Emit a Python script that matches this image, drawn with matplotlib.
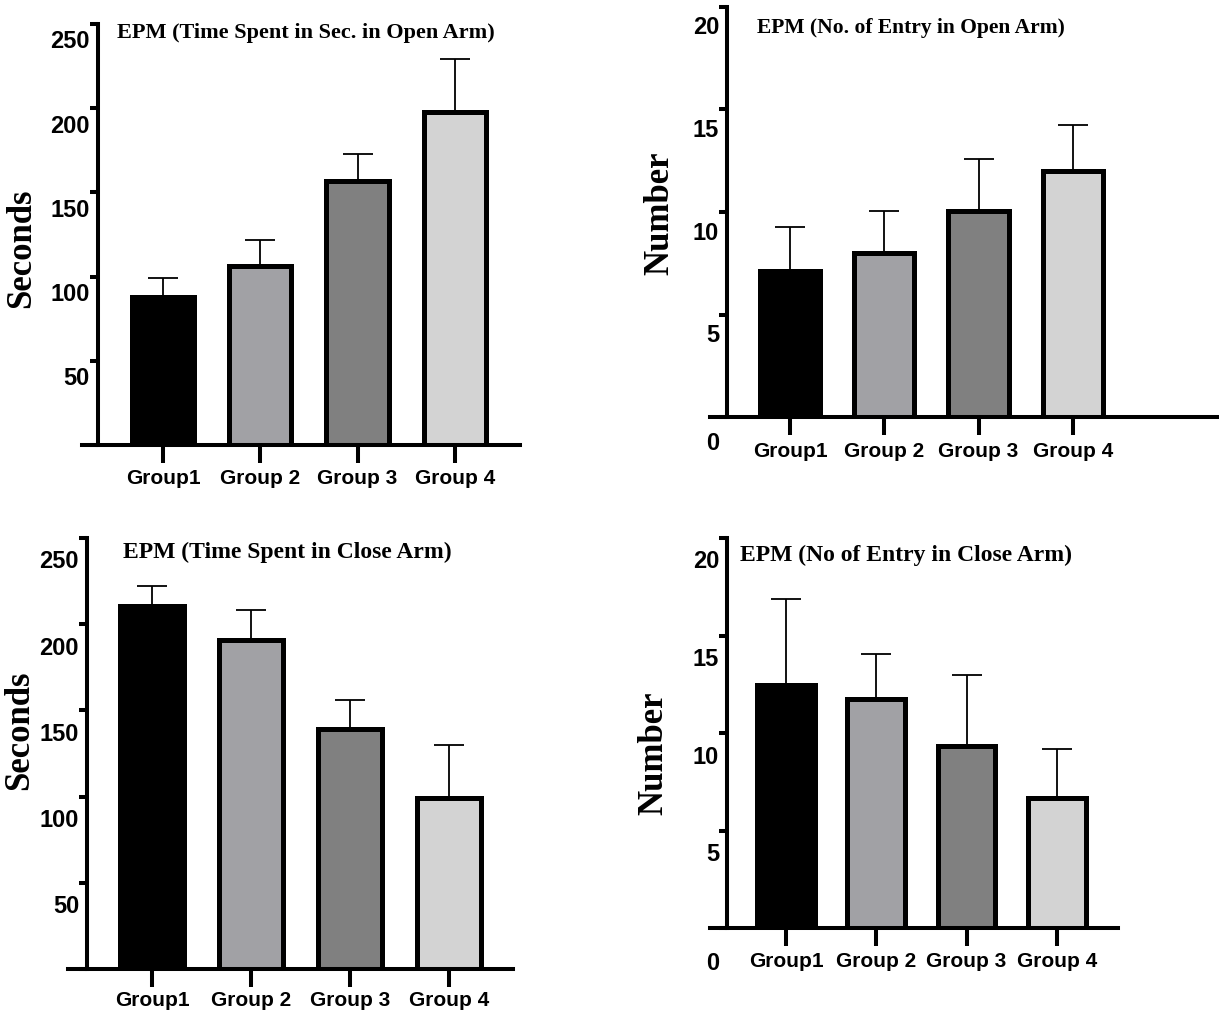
import matplotlib
matplotlib.use("Agg")
import matplotlib.pyplot as plt
from matplotlib.transforms import ScaledTranslation
import numpy as np

# data
groups = ["Group1", "Group 2", "Group 3", "Group 4"]
bar_colors = ["#000000", "#a1a1a5", "#808080", "#d3d3d3"]

open_time_mean = [88, 106, 157, 198]
open_time_sd = [11, 16, 16, 31]

open_entry_mean = [7.1, 8.0, 10.05, 12.0]
open_entry_sd = [2.15, 2.05, 2.55, 2.25]

close_time_mean = [210.5, 191, 139.5, 99]
close_time_sd = [11.5, 17, 16.5, 31]

close_entry_mean = [12.45, 11.75, 9.35, 6.65]
close_entry_sd = [4.4, 2.3, 3.65, 2.55]

sec_ticks = [0, 50, 100, 150, 200, 250]
num_ticks = [0, 5, 10, 15, 20]

W, H = 1219, 1014
plt.rcParams['font.family'] = ['Liberation Sans', 'DejaVu Sans']
plt.rcParams['font.weight'] = 'bold'

fig = plt.figure(figsize=(W / 100, H / 100), dpi=100)


def px(x, y):
    return x / W, 1 - y / H


# layout of each panel, in pixels of the reference
panels = [
    dict(box=(82, 24, 520, 445), spine=98, mean=open_time_mean, sd=open_time_sd, ticks=sec_ticks,
         first=163, step=97.3, title="EPM (Time Spent in Sec. in Open Arm)", tpos=(306, 33), tsize=16,
         ylabel="Seconds", lpos=(22, 248), off=18, zero=False, zoff=0, xpad=4),
    dict(box=(710, 7, 1219, 417), spine=727, mean=open_entry_mean, sd=open_entry_sd, ticks=num_ticks,
         first=790, step=94.3, title="EPM (No. of Entry in Open Arm)", tpos=(911, 28), tsize=15.5,
         ylabel="Number", lpos=(660, 213), off=21, zero=True, zoff=5, xpad=5),
    dict(box=(68, 538, 513, 969), spine=87, mean=close_time_mean, sd=close_time_sd, ticks=sec_ticks,
         first=152, step=99, title="EPM (Time Spent in Close Arm)", tpos=(287, 552), tsize=17,
         ylabel="Seconds", lpos=(20, 730), off=24, zero=False, zoff=0, xpad=3),
    dict(box=(710, 538, 1118, 928), spine=727, mean=close_entry_mean, sd=close_entry_sd, ticks=num_ticks,
         first=786, step=90.3, title="EPM (No of Entry in Close Arm)", tpos=(906, 555), tsize=17,
         ylabel="Number", lpos=(654, 753), off=24, zero=True, zoff=11, xpad=4),
]

for p in panels:
    l, t, r, b = p["box"]
    ax = fig.add_axes([l / W, 1 - b / H, (r - l) / W, (b - t) / H])
    wpx = r - l
    x = np.arange(len(groups))
    lo = -(p["first"] - l) / p["step"]
    ax.set_xlim(lo, lo + wpx / p["step"])
    ax.set_ylim(0, p["ticks"][-1])

    ax.bar(x, p["mean"], width=0.64, color=bar_colors, edgecolor="black", linewidth=3.6,
           yerr=[np.zeros(len(groups)), p["sd"]], capsize=11,
           error_kw=dict(elinewidth=1.3, capthick=1.3, ecolor="black"), zorder=2)

    for s in ["top", "right"]:
        ax.spines[s].set_visible(False)
    ax.spines["left"].set_position(("axes", (p["spine"] - l) / wpx))
    for s in ["left", "bottom"]:
        ax.spines[s].set_linewidth(2.9)
        ax.spines[s].set_zorder(3)

    ax.set_yticks(p["ticks"])
    ax.set_yticklabels([])
    ax.tick_params(axis="y", direction="out", length=6, width=2.9)
    ax.set_xticks(x)
    ax.set_xticklabels(groups, fontsize=15, fontweight="bold")
    ax.tick_params(axis="x", direction="out", length=13, width=2.9, pad=p["xpad"])

    # y tick labels sit a bit below their ticks in the reference
    for v in p["ticks"]:
        if v == 0 and not p["zero"]:
            continue
        dy = p["off"] + (p["zoff"] if v == 0 else 0)
        trans = ax.get_yaxis_transform() + ScaledTranslation(
            (p["spine"] - l) / 100 - 0.08, -dy / 100, fig.dpi_scale_trans)
        ax.text(0, v, str(v), transform=trans, ha="right", va="center",
                fontsize=17, fontweight="bold")

    fig.text(*px(*p["tpos"]), p["title"], ha="center", va="center",
             fontsize=p["tsize"], fontweight="bold", family="Liberation Serif")
    fig.text(*px(*p["lpos"]), p["ylabel"], ha="center", va="center", rotation=90,
             fontsize=25, fontweight="bold", family="Liberation Serif")

fig.savefig("out.png", dpi=100, facecolor="white")
